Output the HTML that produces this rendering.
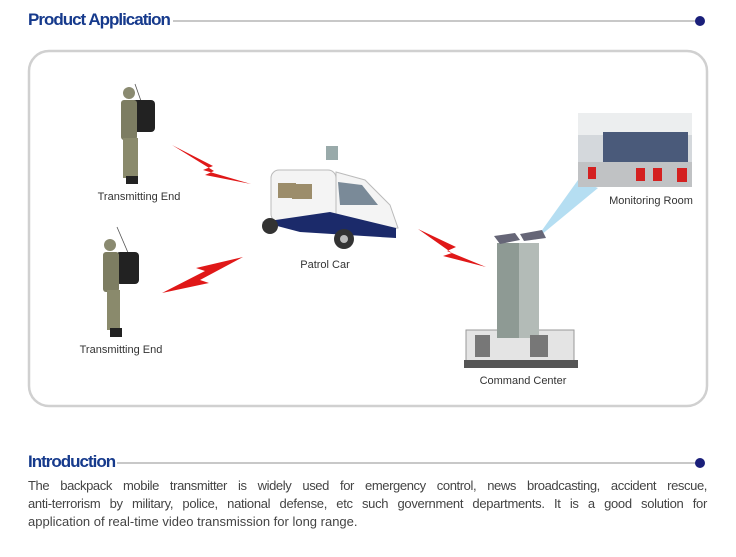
<!DOCTYPE html>
<html><head><meta charset="utf-8"><style>
html,body{margin:0;padding:0;background:#fff;width:736px;height:557px;overflow:hidden}
body{position:relative;font-family:"Liberation Sans",Arial,sans-serif}
.h{position:absolute;left:28px;font-weight:bold;font-size:17px;color:#163a8c;letter-spacing:-1px}
.l{position:absolute;left:28px;width:679px;font-size:13px;line-height:18px;color:#444;white-space:nowrap}
.j{text-align:justify;text-align-last:justify;white-space:normal}
</style></head><body>
<div class="h" style="top:10px">Product Application</div>
<div class="h" style="top:452px">Introduction</div>
<svg width="736" height="557" style="position:absolute;left:0;top:0">
<line x1="173" y1="21" x2="697" y2="21" stroke="#c8c8c8" stroke-width="2"/>
<circle cx="700" cy="21" r="5" fill="#1a1f7a"/>
<line x1="117" y1="463" x2="697" y2="463" stroke="#c8c8c8" stroke-width="2"/>
<circle cx="700" cy="463" r="5" fill="#1a1f7a"/>
<rect x="29" y="51" width="678" height="355" rx="20" fill="none" stroke="#d0d0d0" stroke-width="2.5"/>
<g>
<line x1="135" y1="84" x2="147" y2="118" stroke="#555" stroke-width="0.8"/>
<rect x="130" y="100" width="25" height="32" rx="4" fill="#222"/>
<circle cx="129" cy="93" r="6" fill="#8a8a70"/>
<rect x="121" y="100" width="16" height="40" rx="3" fill="#7d7d62"/>
<rect x="123" y="138" width="15" height="40" fill="#8a8a6c"/>
<rect x="126" y="176" width="12" height="8" fill="#222"/>
</g>
<g>
<line x1="117" y1="227" x2="132" y2="262" stroke="#555" stroke-width="0.8"/>
<rect x="116" y="252" width="23" height="32" rx="4" fill="#222"/>
<circle cx="110" cy="245" r="6" fill="#8a8a70"/>
<rect x="103" y="252" width="16" height="40" rx="3" fill="#7d7d62"/>
<rect x="107" y="290" width="13" height="40" fill="#8a8a6c"/>
<rect x="110" y="328" width="12" height="9" fill="#222"/>
</g>
<g fill="#e01818">
<polygon points="172,145 213,166 203,170 251,184 205,175 214,171"/>
<polygon points="162,293 205,271 196,268 243,257 200,280 209,283"/>
<polygon points="418,229 456,247 447,251 486,267 443,256 452,253"/>
</g>
<g>
<rect x="326" y="146" width="12" height="14" fill="#9aa" />
<rect x="271" y="170" width="65" height="52" rx="8" fill="#f4f4f4" stroke="#bbb"/>
<path d="M336 172 L365 180 L390 205 L398 228 L336 236 Z" fill="#f4f4f4" stroke="#bbb"/>
<rect x="278" y="183" width="18" height="15" fill="#9c8d6b"/>
<rect x="292" y="184" width="20" height="15" fill="#9c8d6b"/>
<path d="M338 182 L362 185 L378 205 L340 205Z" fill="#7a8a98"/>
<path d="M262 222 L330 212 L396 228 L396 238 L300 232Z" fill="#1b2a6a"/>
<circle cx="344" cy="239" r="10" fill="#333"/><circle cx="344" cy="239" r="4" fill="#bbb"/>
<circle cx="270" cy="226" r="8" fill="#333"/>
</g>
<polygon points="535,240 578,180 598,188" fill="#a8d8f0" opacity="0.85"/>
<g>
<rect x="466" y="330" width="108" height="35" fill="#e4e4e4" stroke="#999"/>
<rect x="464" y="360" width="114" height="8" fill="#555"/>
<rect x="497" y="243" width="22" height="95" fill="#8e9a94"/>
<rect x="519" y="243" width="20" height="95" fill="#b3bbb7"/>
<polygon points="494,236 515,233 520,240 500,244" fill="#667"/>
<polygon points="520,234 542,230 546,238 524,241" fill="#667"/>
<rect x="475" y="335" width="15" height="22" fill="#777"/>
<rect x="530" y="335" width="18" height="22" fill="#777"/>
</g>
<g>
<rect x="578" y="113" width="114" height="74" fill="#d4d8dc"/>
<rect x="578" y="113" width="114" height="22" fill="#eceeef"/>
<rect x="603" y="132" width="85" height="30" fill="#4a5a7a"/>
<rect x="578" y="162" width="114" height="25" fill="#c0c2c4"/>
<rect x="588" y="167" width="8" height="12" fill="#d42020"/>
<rect x="636" y="168" width="9" height="13" fill="#d42020"/>
<rect x="653" y="168" width="9" height="13" fill="#d42020"/>
<rect x="677" y="168" width="10" height="14" fill="#d42020"/>
</g>
<g font-family="Liberation Sans,Arial,sans-serif" font-size="11" fill="#333" text-anchor="middle">
<text x="139" y="200">Transmitting End</text>
<text x="121" y="353">Transmitting End</text>
<text x="325" y="268">Patrol Car</text>
<text x="523" y="384">Command Center</text>
<text x="651" y="204">Monitoring Room</text>
</g>
</svg>
<div class="l j" style="top:477px;letter-spacing:-0.4px">The backpack mobile transmitter is widely used for emergency control, news broadcasting, accident rescue,</div>
<div class="l j" style="top:495px;letter-spacing:-0.3px">anti-terrorism by military, police, national defense, etc such government departments. It is a good solution for</div>
<div class="l" style="top:513px">application of real-time video transmission for long range.</div>
</body></html>
